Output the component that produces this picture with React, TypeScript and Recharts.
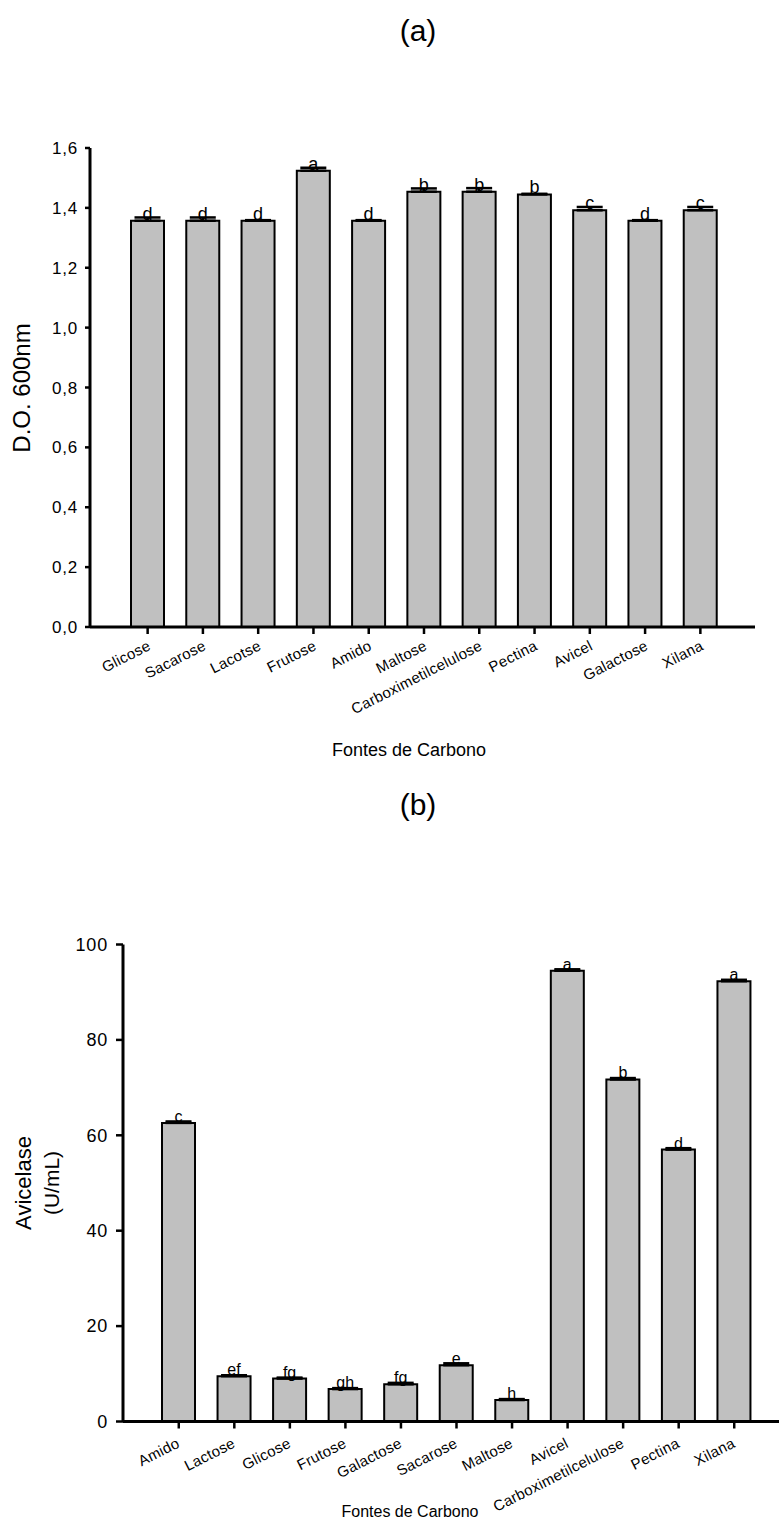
import React from 'react';
import { BarChart, Bar, XAxis, YAxis, ErrorBar, LabelList } from 'recharts';

// (a) growth on each carbon source
const topCategories = ['Glicose', 'Sacarose', 'Lacotse', 'Frutose', 'Amido', 'Maltose', 'Carboximetilcelulose', 'Pectina', 'Avicel', 'Galactose', 'Xilana'];
const topValues = [1.357, 1.357, 1.357, 1.524, 1.357, 1.454, 1.454, 1.445, 1.392, 1.357, 1.392];
const topErrors = [0.011, 0.011, 0.002, 0.01, 0.002, 0.011, 0.012, 0.002, 0.011, 0.002, 0.011];
const topLetters = ['d', 'd', 'd', 'a', 'd', 'b', 'b', 'b', 'c', 'd', 'c'];
const topTicks = [0, 0.2, 0.4, 0.6, 0.8, 1.0, 1.2, 1.4, 1.6];

// (b) avicelase activity
const bottomCategories = ['Amido', 'Lactose', 'Glicose', 'Frutose', 'Galactose', 'Sacarose', 'Maltose', 'Avicel', 'Carboximetilcelulose', 'Pectina', 'Xilana'];
const bottomValues = [62.6, 9.5, 9.0, 6.8, 7.8, 11.8, 4.5, 94.5, 71.7, 57.0, 92.3];
const bottomErrors = [0.3, 0.2, 0.2, 0.2, 0.3, 0.4, 0.2, 0.3, 0.3, 0.3, 0.3];
const bottomLetters = ['c', 'ef', 'fg', 'gh', 'fg', 'e', 'h', 'a', 'b', 'd', 'a'];
const bottomTicks = [0, 20, 40, 60, 80, 100];

const FONT = '"Liberation Sans", Arial, sans-serif';

const topData = topCategories.map((name, i) => ({
  name,
  value: topValues[i],
  err: [0, topErrors[i]],
  letter: topLetters[i],
}));

const bottomData = bottomCategories.map((name, i) => ({
  name,
  value: bottomValues[i],
  err: [0, bottomErrors[i]],
  letter: bottomLetters[i],
}));

const makeCatTick = (dx: number, dy: number, size: number) => (props: any) => {
  const { x, y, payload } = props;
  const px = x + dx;
  const py = y + dy;
  return (
    <text
      x={px}
      y={py}
      textAnchor="end"
      fontSize={size}
      fontFamily={FONT}
      letterSpacing={0.3}
      fill="#000"
      transform={`rotate(-27, ${px}, ${py})`}
    >
      {payload.value}
    </text>
  );
};

const makeLetter = (size: number) => (props: any) => {
  const { x, y, width, value } = props;
  return (
    <text x={x + width / 2} y={y - 1} textAnchor="middle" fontSize={size} fontFamily={FONT} fill="#000">
      {value}
    </text>
  );
};

const axisLine = { stroke: '#000', strokeWidth: 3 };
const tickLine = { stroke: '#000', strokeWidth: 2.5 };
const tickText = { fill: '#000', fontSize: 17, fontFamily: FONT, letterSpacing: 0.8 };

const abs = (style: React.CSSProperties): React.CSSProperties => ({
  position: 'absolute',
  whiteSpace: 'nowrap',
  fontFamily: FONT,
  color: '#000',
  lineHeight: 1,
  ...style,
});

export default function App() {
  return (
    <div style={{ position: 'absolute', left: 0, top: 0, width: 779, height: 1530, background: '#fff' }}>
      <div style={abs({ left: 418, top: 31, fontSize: 30, transform: 'translate(-50%, -50%)' })}>(a)</div>

      <div style={{ position: 'absolute', left: 0, top: 0 }}>
        <BarChart width={779} height={740} data={topData} margin={{ top: 148, right: 24, bottom: 0, left: 0 }} barSize={33}>
          <XAxis
            dataKey="name"
            interval={0}
            height={113}
            padding={{ left: 30, right: 27 }}
            axisLine={axisLine}
            tickLine={tickLine}
            tickSize={7}
            tick={makeCatTick(4, 13, 15)}
          />
          <YAxis
            width={90}
            domain={[0, 1.6]}
            ticks={topTicks}
            interval={0}
            tickFormatter={(v: number) => v.toFixed(1).replace('.', ',')}
            axisLine={axisLine}
            tickLine={tickLine}
            tickSize={5}
            tickMargin={7}
            tick={tickText}
          />
          <Bar dataKey="value" fill="#c0c0c0" stroke="#000" strokeWidth={2} isAnimationActive={false}>
            <ErrorBar dataKey="err" direction="y" width={13} stroke="#000" strokeWidth={2.5} />
            <LabelList dataKey="letter" content={makeLetter(18)} />
          </Bar>
        </BarChart>
      </div>

      <div style={abs({ left: 22, top: 388, fontSize: 24, transform: 'translate(-50%, -50%) rotate(-90deg)' })}>D.O. 600nm</div>
      <div style={abs({ left: 409, top: 750, fontSize: 18, transform: 'translate(-50%, -50%)' })}>Fontes de Carbono</div>

      <div style={abs({ left: 418, top: 805, fontSize: 30, transform: 'translate(-50%, -50%)' })}>(b)</div>

      <div style={{ position: 'absolute', left: 0, top: 760 }}>
        <BarChart width={779} height={770} data={bottomData} margin={{ top: 184.5, right: 0, bottom: 0, left: 0 }} barSize={33}>
          <XAxis
            dataKey="name"
            interval={0}
            height={108.5}
            padding={{ left: 28, right: 17 }}
            axisLine={axisLine}
            tickLine={tickLine}
            tickSize={7}
            tick={makeCatTick(2, 16, 15)}
          />
          <YAxis
            width={123}
            domain={[0, 100]}
            ticks={bottomTicks}
            interval={0}
            axisLine={axisLine}
            tickLine={tickLine}
            tickSize={7}
            tickMargin={8}
            tick={{ ...tickText, fontSize: 18 }}
          />
          <Bar dataKey="value" fill="#c0c0c0" stroke="#000" strokeWidth={2} isAnimationActive={false}>
            <ErrorBar dataKey="err" direction="y" width={13} stroke="#000" strokeWidth={2.5} />
            <LabelList dataKey="letter" content={makeLetter(16)} />
          </Bar>
        </BarChart>
      </div>

      <div style={abs({ left: 24, top: 1183, fontSize: 22, transform: 'translate(-50%, -50%) rotate(-90deg)' })}>Avicelase</div>
      <div style={abs({ left: 51, top: 1183, fontSize: 21, transform: 'translate(-50%, -50%) rotate(-90deg)' })}>(U/mL)</div>
      <div style={abs({ left: 410, top: 1512, fontSize: 16, transform: 'translate(-50%, -50%)' })}>Fontes de Carbono</div>
    </div>
  );
}
